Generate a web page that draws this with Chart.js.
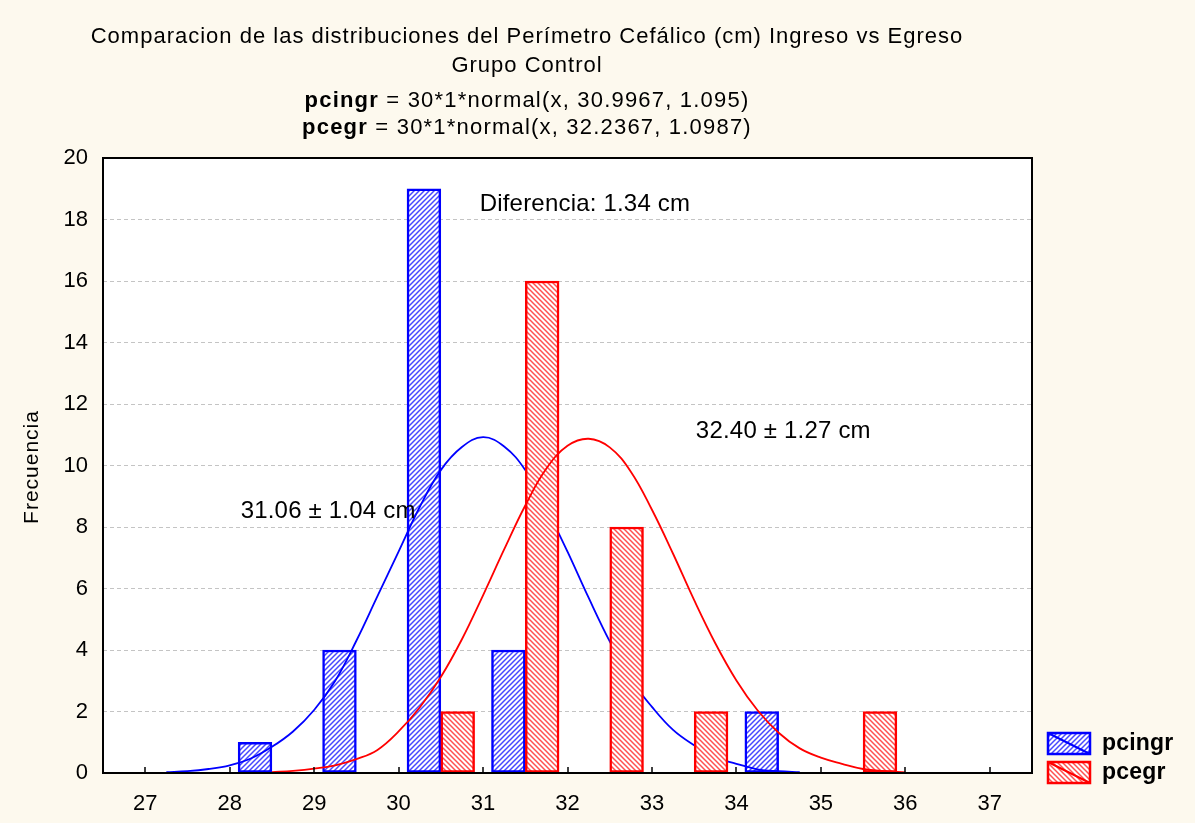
<!DOCTYPE html>
<html>
<head>
<meta charset="utf-8">
<script src="https://cdn.jsdelivr.net/npm/chart.js@4/dist/chart.umd.min.js"></script>
<style>
  body { margin: 0; background: #fdf9ee; }
  canvas { display: block; }
</style>
</head>
<body>
<canvas id="chart" width="1195" height="823"></canvas>
<script>
// histogram bins (centre of each 1 cm class) and frequencies
const ingresoBins = [28.5, 29.5, 30.5, 31.5, 34.5];
const ingresoFreq = [1, 4, 19, 4, 2];
const egresoBins = [30.5, 31.5, 32.5, 33.5, 35.5];
const egresoFreq = [2, 16, 8, 2, 2];

// fitted normal curves
const ingresoCurveX = [27.25, 27.5, 27.75, 28, 28.25, 28.5, 28.75, 29, 29.25, 29.5, 29.75, 30, 30.25, 30.5, 30.75, 31,
    31.25, 31.5, 31.75, 32, 32.25, 32.5, 32.75, 33, 33.25, 33.5, 33.75, 34, 34.25, 34.5, 34.75];
const ingresoCurveY = [0.03, 0.06, 0.13, 0.25, 0.47, 0.85, 1.35, 2.05, 3.0, 4.3, 5.75, 7.2, 8.65, 9.85, 10.6, 10.92,
    10.62, 9.85, 8.6, 7.2, 5.7, 4.28, 3.05, 2.15, 1.4, 0.9, 0.5, 0.3, 0.12, 0.06, 0.03];
const egresoCurveX = [28.5, 28.75, 29, 29.25, 29.5, 29.75, 30, 30.25, 30.5, 30.75, 31, 31.25, 31.5, 31.75, 32, 32.25,
    32.5, 32.75, 33, 33.25, 33.5, 33.75, 34, 34.25, 34.5, 34.75, 35, 35.25, 35.5, 35.75, 36];
const egresoCurveY = [0.03, 0.07, 0.14, 0.25, 0.45, 0.75, 1.35, 2.13, 3.12, 4.35, 5.78, 7.27, 8.7, 9.9, 10.64, 10.87,
    10.59, 9.8, 8.56, 7.13, 5.62, 4.22, 3.01, 2.04, 1.31, 0.8, 0.5, 0.3, 0.13, 0.06, 0.02];

const xTicks = [27, 28, 29, 30, 31, 32, 33, 34, 35, 36, 37];

const FONT = '"Liberation Sans", Arial, sans-serif';
const ctx = document.getElementById('chart').getContext('2d');

function hatch(color, up) {
    const n = 5;
    const c = document.createElement('canvas');
    c.width = c.height = n;
    const g = c.getContext('2d');
    g.fillStyle = '#ffffff';
    g.fillRect(0, 0, n, n);
    g.strokeStyle = color;
    g.lineWidth = 1.5;
    g.beginPath();
    if (up) {
        g.moveTo(0, n); g.lineTo(n, 0);
        g.moveTo(-1, 1); g.lineTo(1, -1);
        g.moveTo(n - 1, n + 1); g.lineTo(n + 1, n - 1);
    } else {
        g.moveTo(0, 0); g.lineTo(n, n);
        g.moveTo(n - 1, -1); g.lineTo(n + 1, 1);
        g.moveTo(-1, n - 1); g.lineTo(1, n + 1);
    }
    g.stroke();
    return ctx.createPattern(c, 'repeat');
}

const bluePattern = hatch('#4848ff', true);
const redPattern = hatch('#ff5050', false);

// the two histograms sit side by side inside each class
const side = 0.2;

const decorations = {
    id: 'decorations',
    beforeDraw(chart) {
        const g = chart.ctx;
        const a = chart.chartArea;
        g.save();
        g.fillStyle = '#fdf9ee';
        g.fillRect(0, 0, chart.width, chart.height);
        g.fillStyle = '#ffffff';
        g.fillRect(a.left, a.top, a.right - a.left, a.bottom - a.top);
        g.restore();
    },
    afterDraw(chart) {
        const g = chart.ctx;
        const a = chart.chartArea;
        const xs = chart.scales.x;
        const ys = chart.scales.y;
        g.save();

        // frame and inner ticks
        g.strokeStyle = '#000';
        g.lineWidth = 2;
        g.strokeRect(a.left, a.top, a.right - a.left, a.bottom - a.top);
        g.lineWidth = 1.5;
        xTicks.forEach(v => {
            const px = Math.round(xs.getPixelForValue(v));
            g.beginPath();
            g.moveTo(px, a.bottom);
            g.lineTo(px, a.bottom - 6);
            g.stroke();
        });

        // titles
        g.fillStyle = '#000';
        g.textBaseline = 'middle';
        g.textAlign = 'center';
        g.font = '22px ' + FONT;
        g.letterSpacing = '1px';
        g.fillText('Comparacion de las distribuciones del Perímetro Cefálico (cm) Ingreso vs Egreso', 527, 37);
        g.fillText('Grupo Control', 527, 66);

        const mixed = (bold, rest, y) => {
            g.letterSpacing = '1.2px';
            g.font = 'bold 22px ' + FONT;
            const w1 = g.measureText(bold).width;
            g.font = '22px ' + FONT;
            const w2 = g.measureText(rest).width;
            const x = 527 - (w1 + w2) / 2;
            g.textAlign = 'left';
            g.font = 'bold 22px ' + FONT;
            g.fillText(bold, x, y);
            g.font = '22px ' + FONT;
            g.fillText(rest, x + w1, y);
        };
        mixed('pcingr', ' = 30*1*normal(x, 30.9967, 1.095)', 101);
        mixed('pcegr', ' = 30*1*normal(x, 32.2367, 1.0987)', 128);

        // axis title
        g.save();
        g.translate(32, 467);
        g.rotate(-Math.PI / 2);
        g.textAlign = 'center';
        g.letterSpacing = '1px';
        g.font = '21px ' + FONT;
        g.fillText('Frecuencia', 0, 0);
        g.restore();

        // notes inside the plot
        g.textAlign = 'left';
        g.letterSpacing = '0.2px';
        g.font = '24px ' + FONT;
        g.fillText('Diferencia: 1.34 cm', xs.getPixelForValue(30.96), ys.getPixelForValue(18.5));
        g.fillText('32.40 ± 1.27 cm', xs.getPixelForValue(33.52), ys.getPixelForValue(11.1));
        g.fillText('31.06 ± 1.04 cm', xs.getPixelForValue(28.13), ys.getPixelForValue(8.52));

        // legend
        const items = [['pcingr', bluePattern, '#0000ff', 733], ['pcegr', redPattern, '#ff0000', 762]];
        items.forEach(([label, fill, stroke, top]) => {
            g.fillStyle = fill;
            g.fillRect(1048, top, 42, 21);
            g.strokeStyle = stroke;
            g.lineWidth = 2.5;
            g.strokeRect(1048, top, 42, 21);
            g.lineWidth = 2;
            g.beginPath();
            g.moveTo(1048, top);
            g.lineTo(1090, top + 21);
            g.stroke();
            g.fillStyle = '#000';
            g.font = 'bold 23px ' + FONT;
            g.fillText(label, 1102, top + 11);
        });
        g.restore();
    }
};

new Chart(ctx, {
    type: 'bar',
    data: {
        datasets: [
            {
                type: 'bar',
                label: 'pcingr',
                data: ingresoBins.map((b, i) => ({ x: b - side, y: ingresoFreq[i] })),
                backgroundColor: bluePattern,
                borderColor: '#0000ff',
                borderWidth: 2.5,
                borderSkipped: false,
                grouped: false,
                categoryPercentage: 1,
                barPercentage: 1,
                order: 4
            },
            {
                type: 'line',
                label: 'pcingr curve',
                data: ingresoCurveX.map((x, i) => ({ x: x, y: ingresoCurveY[i] })),
                borderColor: '#0000ff',
                borderWidth: 1.8,
                pointRadius: 0,
                tension: 0.4,
                fill: false,
                order: 3
            },
            {
                type: 'bar',
                label: 'pcegr',
                data: egresoBins.map((b, i) => ({ x: b + side, y: egresoFreq[i] })),
                backgroundColor: redPattern,
                borderColor: '#ff0000',
                borderWidth: 2.5,
                borderSkipped: false,
                grouped: false,
                categoryPercentage: 1,
                barPercentage: 1,
                order: 2
            },
            {
                type: 'line',
                label: 'pcegr curve',
                data: egresoCurveX.map((x, i) => ({ x: x, y: egresoCurveY[i] })),
                borderColor: '#ff0000',
                borderWidth: 1.8,
                pointRadius: 0,
                tension: 0.4,
                fill: false,
                order: 1
            }
        ]
    },
    options: {
        responsive: false,
        animation: false,
        layout: { padding: { left: 0, top: 158, right: 163, bottom: 0 } },
        plugins: {
            legend: { display: false },
            title: { display: false },
            tooltip: { enabled: false }
        },
        scales: {
            x: {
                type: 'linear',
                min: 26.5,
                max: 37.5,
                offset: false,
                grid: { display: false, drawTicks: false, offset: false },
                border: { display: false },
                ticks: {
                    autoSkip: false,
                    maxRotation: 0,
                    color: '#000',
                    padding: 18,
                    font: { family: FONT, size: 22 }
                },
                afterBuildTicks: s => { s.ticks = xTicks.map(v => ({ value: v })); },
                afterFit: s => { s.height = 50; }
            },
            y: {
                min: 0,
                max: 20,
                grid: { color: '#c4c4c4', drawTicks: false, lineWidth: 1 },
                border: { display: false, dash: [4, 3] },
                ticks: {
                    stepSize: 2,
                    color: '#000',
                    padding: 15,
                    font: { family: FONT, size: 22 }
                },
                afterFit: s => { s.width = 103; }
            }
        }
    },
    plugins: [decorations]
});
</script>
</body>
</html>
